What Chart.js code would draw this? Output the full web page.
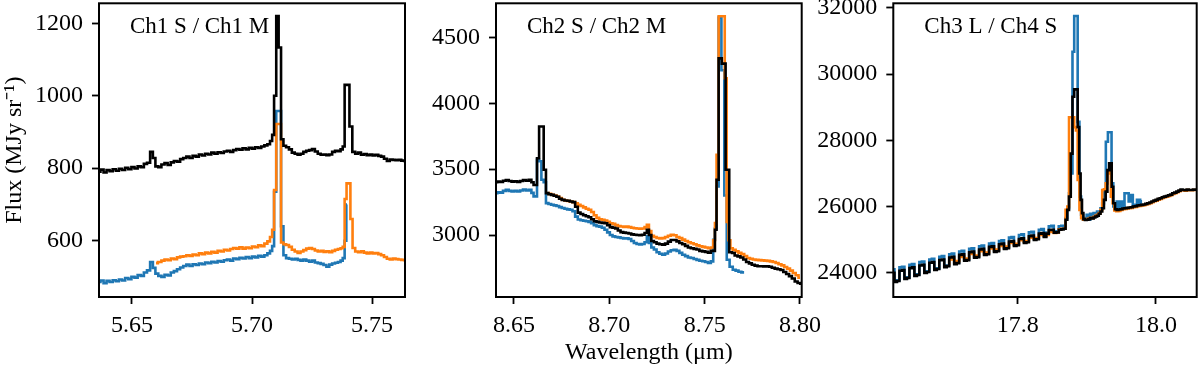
<!DOCTYPE html>
<html>
<head>
<meta charset="utf-8">
<script src="https://cdn.jsdelivr.net/npm/chart.js@4.4.1/dist/chart.umd.min.js"></script>
<style>
  html, body { margin: 0; padding: 0; background: #fff; }
  #wrap { position: relative; width: 1200px; height: 367px; }
  #wrap canvas { position: absolute; left: 0; top: 0; }
</style>
</head>
<body>
<div id="wrap">
  <canvas id="c1" width="1200" height="367"></canvas>
  <canvas id="c2" width="1200" height="367"></canvas>
  <canvas id="c3" width="1200" height="367"></canvas>
</div>
<script>
// ---- data: [wavelength (um), flux (MJy/sr)] ----

// Ch1 S / Ch1 M
const ch1Black = [[5.6362,790],[5.6375,796],[5.6388,788],[5.6400,795],[5.6413,792],[5.6426,797],[5.6439,793],[5.6452,798],[5.6465,795],[5.6478,801],[5.6491,797],[5.6504,803],[5.6517,799],[5.6530,805],[5.6543,803],[5.6556,812],[5.6569,815],[5.6582,845],[5.6592,828],[5.6603,805],[5.6616,803],[5.6629,810],[5.6642,814],[5.6655,809],[5.6668,816],[5.6681,820],[5.6694,818],[5.6707,825],[5.6720,828],[5.6733,832],[5.6746,828],[5.6759,834],[5.6772,832],[5.6785,838],[5.6798,835],[5.6811,840],[5.6824,838],[5.6837,843],[5.6850,840],[5.6863,844],[5.6876,842],[5.6889,846],[5.6902,848],[5.6915,845],[5.6928,850],[5.6941,853],[5.6954,851],[5.6967,855],[5.6980,852],[5.6993,856],[5.7006,854],[5.7019,858],[5.7032,856],[5.7045,860],[5.7058,863],[5.7070,866],[5.7080,875],[5.7088,892],[5.7096,1000],[5.7106,1220],[5.7116,1133],[5.7126,880],[5.7136,862],[5.7148,858],[5.7160,852],[5.7172,843],[5.7184,840],[5.7196,837],[5.7208,840],[5.7220,845],[5.7232,848],[5.7244,850],[5.7256,853],[5.7268,846],[5.7280,840],[5.7292,837],[5.7304,838],[5.7316,836],[5.7328,838],[5.7340,845],[5.7352,848],[5.7364,847],[5.7374,852],[5.7382,860],[5.7390,1030],[5.7400,1030],[5.7412,915],[5.7424,845],[5.7436,840],[5.7448,843],[5.7460,837],[5.7472,839],[5.7484,836],[5.7496,838],[5.7508,835],[5.7520,837],[5.7532,834],[5.7544,832],[5.7556,826],[5.7568,820],[5.7580,824],[5.7592,823],[5.7604,822],[5.7616,823],[5.7628,821],[5.7640,820]];
const ch1S = [[5.6362,486],[5.6375,490],[5.6388,483],[5.6400,489],[5.6413,486],[5.6426,491],[5.6439,488],[5.6452,493],[5.6465,490],[5.6478,497],[5.6491,494],[5.6504,500],[5.6517,498],[5.6530,505],[5.6543,503],[5.6556,512],[5.6569,518],[5.6582,541],[5.6592,525],[5.6603,509],[5.6616,503],[5.6629,500],[5.6642,506],[5.6655,504],[5.6668,512],[5.6681,516],[5.6694,521],[5.6707,526],[5.6720,530],[5.6733,534],[5.6746,530],[5.6759,535],[5.6772,533],[5.6785,537],[5.6798,535],[5.6811,540],[5.6824,538],[5.6837,542],[5.6850,540],[5.6863,544],[5.6876,542],[5.6889,546],[5.6902,548],[5.6915,545],[5.6928,551],[5.6941,549],[5.6954,553],[5.6967,551],[5.6980,555],[5.6993,552],[5.7006,556],[5.7019,554],[5.7032,558],[5.7045,556],[5.7058,560],[5.7070,565],[5.7080,572],[5.7088,585],[5.7096,735],[5.7106,958],[5.7116,958],[5.7126,640],[5.7136,560],[5.7148,552],[5.7160,550],[5.7172,548],[5.7184,550],[5.7196,547],[5.7208,545],[5.7220,548],[5.7232,545],[5.7244,542],[5.7256,545],[5.7268,540],[5.7280,538],[5.7292,536],[5.7304,533],[5.7316,528],[5.7328,534],[5.7340,537],[5.7352,539],[5.7364,541],[5.7374,545],[5.7382,552],[5.7390,600],[5.7396,700]];
const ch1M = [[5.6600,538],[5.6616,541],[5.6629,545],[5.6642,548],[5.6655,546],[5.6668,551],[5.6681,549],[5.6694,554],[5.6707,556],[5.6720,557],[5.6733,560],[5.6746,558],[5.6759,562],[5.6772,560],[5.6785,565],[5.6798,563],[5.6811,567],[5.6824,565],[5.6837,569],[5.6850,567],[5.6863,572],[5.6876,570],[5.6889,575],[5.6902,573],[5.6915,577],[5.6928,580],[5.6941,578],[5.6954,582],[5.6967,578],[5.6980,581],[5.6993,579],[5.7006,584],[5.7019,582],[5.7032,587],[5.7045,585],[5.7058,592],[5.7070,598],[5.7080,610],[5.7088,630],[5.7096,740],[5.7106,922],[5.7116,922],[5.7126,595],[5.7136,590],[5.7148,588],[5.7160,583],[5.7172,575],[5.7184,570],[5.7196,566],[5.7208,570],[5.7220,574],[5.7232,578],[5.7244,580],[5.7256,577],[5.7268,573],[5.7280,570],[5.7292,572],[5.7304,569],[5.7316,571],[5.7328,568],[5.7340,572],[5.7352,575],[5.7364,577],[5.7374,579],[5.7382,583],[5.7390,715],[5.7398,758],[5.7406,758],[5.7414,660],[5.7424,580],[5.7436,570],[5.7448,568],[5.7460,571],[5.7472,567],[5.7484,565],[5.7496,567],[5.7508,565],[5.7520,566],[5.7532,563],[5.7544,560],[5.7556,555],[5.7568,550],[5.7580,548],[5.7592,551],[5.7604,549],[5.7616,548],[5.7628,547],[5.7640,546]];

// Ch2 S / Ch2 M
const ch2Black = [[8.6406,3400],[8.6420,3405],[8.6435,3402],[8.6450,3412],[8.6465,3418],[8.6480,3410],[8.6495,3405],[8.6510,3408],[8.6525,3402],[8.6540,3410],[8.6555,3418],[8.6570,3412],[8.6585,3420],[8.6598,3400],[8.6608,3380],[8.6616,3380],[8.6626,3583],[8.6638,3823],[8.6650,3823],[8.6662,3495],[8.6674,3318],[8.6688,3310],[8.6702,3305],[8.6716,3298],[8.6730,3290],[8.6744,3275],[8.6758,3267],[8.6772,3262],[8.6786,3260],[8.6800,3255],[8.6814,3250],[8.6828,3215],[8.6842,3170],[8.6856,3160],[8.6870,3150],[8.6884,3142],[8.6898,3135],[8.6912,3120],[8.6926,3105],[8.6940,3100],[8.6954,3095],[8.6968,3092],[8.6982,3090],[8.6996,3075],[8.7010,3060],[8.7024,3055],[8.7038,3050],[8.7052,3035],[8.7066,3022],[8.7080,3018],[8.7094,3015],[8.7108,3012],[8.7122,3005],[8.7136,3002],[8.7150,3000],[8.7164,2998],[8.7178,3002],[8.7192,3015],[8.7202,3040],[8.7214,3000],[8.7227,2955],[8.7241,2945],[8.7255,2935],[8.7270,2930],[8.7285,2927],[8.7300,2935],[8.7315,2950],[8.7330,2962],[8.7345,2962],[8.7360,2952],[8.7375,2940],[8.7390,2930],[8.7405,2918],[8.7420,2905],[8.7435,2900],[8.7450,2895],[8.7465,2890],[8.7480,2880],[8.7495,2876],[8.7510,2872],[8.7525,2866],[8.7540,2880],[8.7550,2880],[8.7558,3040],[8.7567,3419],[8.7580,4340],[8.7600,4300],[8.7620,3495],[8.7638,2870],[8.7650,2864],[8.7665,2845],[8.7680,2838],[8.7695,2830],[8.7710,2815],[8.7725,2795],[8.7740,2785],[8.7755,2775],[8.7770,2768],[8.7785,2763],[8.7800,2763],[8.7815,2762],[8.7830,2763],[8.7845,2760],[8.7860,2752],[8.7875,2745],[8.7890,2740],[8.7905,2735],[8.7920,2720],[8.7935,2705],[8.7950,2688],[8.7965,2670],[8.7980,2648],[8.7995,2636],[8.8008,2630]];
const ch2S = [[8.6406,3318],[8.6420,3325],[8.6435,3322],[8.6450,3335],[8.6465,3343],[8.6480,3335],[8.6495,3330],[8.6510,3335],[8.6525,3330],[8.6540,3338],[8.6555,3345],[8.6570,3338],[8.6585,3343],[8.6598,3320],[8.6608,3293],[8.6616,3293],[8.6626,3570],[8.6638,3560],[8.6650,3419],[8.6662,3400],[8.6674,3242],[8.6688,3236],[8.6702,3230],[8.6716,3225],[8.6730,3220],[8.6744,3212],[8.6758,3205],[8.6772,3200],[8.6786,3195],[8.6800,3192],[8.6814,3180],[8.6828,3140],[8.6842,3118],[8.6856,3112],[8.6870,3108],[8.6884,3105],[8.6898,3100],[8.6912,3090],[8.6926,3075],[8.6940,3068],[8.6954,3064],[8.6968,3055],[8.6982,3040],[8.6996,3020],[8.7010,3000],[8.7024,2990],[8.7038,2985],[8.7052,2982],[8.7066,2978],[8.7080,2975],[8.7094,2975],[8.7108,2970],[8.7122,2955],[8.7136,2940],[8.7150,2932],[8.7164,2928],[8.7178,2932],[8.7192,2945],[8.7202,2990],[8.7214,2940],[8.7227,2905],[8.7241,2890],[8.7255,2870],[8.7270,2858],[8.7285,2851],[8.7300,2860],[8.7315,2875],[8.7330,2885],[8.7345,2889],[8.7360,2880],[8.7375,2865],[8.7390,2850],[8.7405,2840],[8.7420,2830],[8.7435,2826],[8.7450,2818],[8.7465,2812],[8.7480,2805],[8.7495,2801],[8.7510,2795],[8.7525,2788],[8.7540,2800],[8.7550,2964],[8.7558,3050],[8.7567,3368],[8.7580,4650],[8.7596,4250],[8.7610,3300],[8.7622,2813],[8.7640,2760],[8.7655,2737],[8.7670,2730],[8.7685,2722],[8.7700,2717],[8.7707,2717]];
const ch2M = [[8.6674,3318],[8.6688,3312],[8.6702,3306],[8.6716,3300],[8.6730,3292],[8.6744,3280],[8.6758,3268],[8.6772,3262],[8.6786,3258],[8.6800,3255],[8.6814,3250],[8.6828,3240],[8.6842,3230],[8.6856,3220],[8.6870,3210],[8.6884,3200],[8.6898,3192],[8.6912,3175],[8.6926,3150],[8.6940,3130],[8.6954,3120],[8.6968,3116],[8.6982,3110],[8.6996,3100],[8.7010,3090],[8.7024,3085],[8.7038,3075],[8.7052,3068],[8.7066,3065],[8.7080,3062],[8.7094,3065],[8.7108,3060],[8.7122,3055],[8.7136,3052],[8.7150,3050],[8.7164,3048],[8.7178,3050],[8.7192,3060],[8.7202,3078],[8.7214,3030],[8.7227,2995],[8.7241,2985],[8.7255,2978],[8.7270,2975],[8.7285,2977],[8.7300,2985],[8.7315,2995],[8.7330,3002],[8.7345,2998],[8.7360,2985],[8.7375,2977],[8.7390,2965],[8.7405,2955],[8.7420,2945],[8.7435,2938],[8.7450,2930],[8.7465,2922],[8.7480,2915],[8.7495,2910],[8.7510,2905],[8.7525,2900],[8.7540,2905],[8.7550,2960],[8.7558,3091],[8.7567,3608],[8.7580,4660],[8.7600,4660],[8.7611,4190],[8.7620,3100],[8.7630,2960],[8.7640,2900],[8.7655,2889],[8.7670,2876],[8.7685,2865],[8.7700,2855],[8.7715,2840],[8.7730,2826],[8.7745,2820],[8.7760,2815],[8.7775,2812],[8.7790,2810],[8.7805,2808],[8.7820,2806],[8.7835,2804],[8.7850,2800],[8.7865,2795],[8.7880,2788],[8.7895,2778],[8.7910,2770],[8.7925,2758],[8.7940,2745],[8.7955,2730],[8.7970,2712],[8.7985,2695],[8.8000,2676]];

// Ch3 L / Ch4 S
const ch3Black = [[17.6200,24000],[17.6236,23720],[17.6272,23750],[17.6308,24060],[17.6344,24080],[17.6380,23810],[17.6416,23840],[17.6452,24140],[17.6488,24160],[17.6524,23900],[17.6560,23930],[17.6596,24220],[17.6632,24240],[17.6668,23990],[17.6704,24020],[17.6740,24300],[17.6776,24320],[17.6812,24080],[17.6848,24110],[17.6884,24380],[17.6920,24400],[17.6956,24170],[17.6992,24200],[17.7028,24460],[17.7064,24480],[17.7100,24260],[17.7136,24290],[17.7172,24540],[17.7208,24560],[17.7244,24360],[17.7280,24380],[17.7316,24620],[17.7352,24640],[17.7388,24450],[17.7424,24470],[17.7460,24700],[17.7496,24720],[17.7532,24540],[17.7568,24560],[17.7604,24780],[17.7640,24800],[17.7676,24630],[17.7712,24650],[17.7748,24860],[17.7784,24880],[17.7820,24720],[17.7856,24740],[17.7892,24940],[17.7928,24960],[17.7964,24810],[17.8000,24830],[17.8036,25020],[17.8072,25040],[17.8108,24900],[17.8144,24920],[17.8180,25100],[17.8216,25120],[17.8252,24990],[17.8288,25010],[17.8324,25180],[17.8360,25200],[17.8396,25080],[17.8432,25180],[17.8468,25290],[17.8504,25300],[17.8540,25210],[17.8576,25220],[17.8612,25300],[17.8648,25310],[17.8680,25330],[17.8705,25600],[17.8730,25900],[17.8755,26300],[17.8780,27600],[17.8805,29320],[17.8830,29540],[17.8855,29540],[17.8880,28400],[17.8900,27000],[17.8920,26200],[17.8940,25800],[17.8960,25620],[17.8985,25595],[17.9010,25600],[17.9035,25620],[17.9060,25650],[17.9085,25640],[17.9110,25670],[17.9135,25700],[17.9160,25720],[17.9185,25780],[17.9210,25850],[17.9235,25950],[17.9260,26200],[17.9285,26450],[17.9310,27100],[17.9335,27310],[17.9350,27310],[17.9370,26600],[17.9395,26100],[17.9420,25920],[17.9445,25900],[17.9470,25910],[17.9500,25920],[17.9530,25940],[17.9560,25950],[17.9590,25960],[17.9620,25970],[17.9650,25980],[17.9680,26000],[17.9710,26010],[17.9740,26030],[17.9770,26040],[17.9800,26050],[17.9830,26060],[17.9860,26080],[17.9890,26100],[17.9920,26120],[17.9950,26150],[17.9980,26180],[18.0010,26200],[18.0040,26230],[18.0070,26250],[18.0100,26280],[18.0130,26300],[18.0160,26320],[18.0190,26340],[18.0220,26360],[18.0250,26400],[18.0280,26420],[18.0310,26450],[18.0340,26480],[18.0370,26510],[18.0400,26500],[18.0430,26490],[18.0460,26510],[18.0490,26500],[18.0520,26500],[18.0550,26510],[18.0580,26510]];
const ch3L = [[17.6200,24100],[17.6236,23740],[17.6272,23770],[17.6308,24160],[17.6344,24180],[17.6380,23830],[17.6416,23860],[17.6452,24240],[17.6488,24260],[17.6524,23920],[17.6560,23950],[17.6596,24320],[17.6632,24340],[17.6668,24010],[17.6704,24040],[17.6740,24400],[17.6776,24420],[17.6812,24100],[17.6848,24130],[17.6884,24480],[17.6920,24500],[17.6956,24190],[17.6992,24220],[17.7028,24560],[17.7064,24580],[17.7100,24280],[17.7136,24310],[17.7172,24640],[17.7208,24660],[17.7244,24380],[17.7280,24400],[17.7316,24720],[17.7352,24740],[17.7388,24470],[17.7424,24490],[17.7460,24800],[17.7496,24820],[17.7532,24560],[17.7568,24580],[17.7604,24880],[17.7640,24900],[17.7676,24650],[17.7712,24670],[17.7748,24960],[17.7784,24980],[17.7820,24740],[17.7856,24760],[17.7892,25060],[17.7928,25080],[17.7964,24840],[17.8000,24860],[17.8036,25140],[17.8072,25160],[17.8108,24930],[17.8144,24950],[17.8180,25220],[17.8216,25240],[17.8252,25020],[17.8288,25040],[17.8324,25300],[17.8360,25320],[17.8396,25110],[17.8432,25210],[17.8468,25400],[17.8504,25420],[17.8540,25240],[17.8576,25250],[17.8612,25400],[17.8648,25420],[17.8680,25400],[17.8705,25650],[17.8730,25950],[17.8755,26400],[17.8780,27000],[17.8805,30680],[17.8830,31760],[17.8855,31760],[17.8880,28560],[17.8905,26300],[17.8930,25750],[17.8960,25600],[17.8985,25650],[17.9010,25750],[17.9035,25600],[17.9060,25780],[17.9085,25650],[17.9110,25800],[17.9135,25700],[17.9160,25850],[17.9185,25800],[17.9210,25950],[17.9235,26100],[17.9260,26450],[17.9290,27960],[17.9320,28245],[17.9345,28245],[17.9370,26700],[17.9395,26000],[17.9420,25900],[17.9445,26150],[17.9470,25950],[17.9500,26150],[17.9530,25980],[17.9560,26400],[17.9590,26400],[17.9620,26150],[17.9650,26350],[17.9680,26050],[17.9710,26000],[17.9740,26200],[17.9770,26100],[17.9790,26200]];
const ch4S = [[17.6992,24260],[17.7028,24400],[17.7064,24420],[17.7100,24320],[17.7136,24350],[17.7172,24480],[17.7208,24500],[17.7244,24410],[17.7280,24430],[17.7316,24570],[17.7352,24590],[17.7388,24500],[17.7424,24520],[17.7460,24650],[17.7496,24670],[17.7532,24590],[17.7568,24610],[17.7604,24730],[17.7640,24750],[17.7676,24680],[17.7712,24700],[17.7748,24810],[17.7784,24830],[17.7820,24760],[17.7856,24790],[17.7892,24900],[17.7928,24920],[17.7964,24850],[17.8000,24870],[17.8036,24980],[17.8072,25000],[17.8108,24940],[17.8144,24960],[17.8180,25060],[17.8216,25080],[17.8252,25030],[17.8288,25050],[17.8324,25140],[17.8360,25160],[17.8396,25110],[17.8432,25140],[17.8468,25230],[17.8504,25250],[17.8540,25200],[17.8576,25220],[17.8612,25310],[17.8648,25330],[17.8680,25330],[17.8705,25900],[17.8730,26000],[17.8755,28700],[17.8780,28700],[17.8805,28700],[17.8830,28400],[17.8855,28300],[17.8880,26800],[17.8905,25900],[17.8930,25650],[17.8960,25600],[17.8985,25620],[17.9010,25620],[17.9035,25640],[17.9060,25660],[17.9085,25650],[17.9110,25690],[17.9135,25720],[17.9160,25750],[17.9185,25800],[17.9210,25900],[17.9235,26500],[17.9260,26520],[17.9285,26700],[17.9310,27000],[17.9335,27100],[17.9360,26300],[17.9385,26100],[17.9410,25880],[17.9440,25860],[17.9470,25870],[17.9500,25900],[17.9530,25920],[17.9560,25930],[17.9590,25940],[17.9620,25950],[17.9650,25960],[17.9680,25980],[17.9710,25990],[17.9740,26010],[17.9770,26020],[17.9800,26030],[17.9830,26040],[17.9860,26060],[17.9890,26080],[17.9920,26100],[17.9950,26130],[17.9980,26160],[18.0010,26180],[18.0040,26210],[18.0070,26230],[18.0100,26260],[18.0130,26280],[18.0160,26300],[18.0190,26320],[18.0220,26340],[18.0250,26380],[18.0280,26400],[18.0310,26430],[18.0340,26460],[18.0370,26490],[18.0400,26490],[18.0430,26480],[18.0460,26500],[18.0490,26490],[18.0520,26490],[18.0550,26500],[18.0580,26500]];

// tick values and labels
const p1XTicks = [5.65, 5.70, 5.75];
const p1XLabels = ["5.65", "5.70", "5.75"];
const p1YTicks = [600, 800, 1000, 1200];
const p2XTicks = [8.65, 8.70, 8.75, 8.80];
const p2XLabels = ["8.65", "8.70", "8.75", "8.80"];
const p2YTicks = [3000, 3500, 4000, 4500];
const p3XTicks = [17.8, 18.0];
const p3XLabels = ["17.8", "18.0"];
const p3YTicks = [24000, 26000, 28000, 30000, 32000];

const FONT = '"Liberation Serif", "Times New Roman", serif';
const BLUE = "#1f77b4", ORANGE = "#ff7f0e", BLACK = "#000000";

const toXY = arr => arr.map(p => ({ x: p[0], y: p[1] }));

// frame around the plot area + panel label
const framePlugin = {
    id: "frame",
    afterDraw(chart, args, opts) {
        const { ctx, chartArea: a } = chart;
        ctx.save();
        ctx.strokeStyle = "#000";
        ctx.lineWidth = 2;
        ctx.strokeRect(a.left, a.top, a.right - a.left, a.bottom - a.top);
        ctx.fillStyle = "#000";
        ctx.font = "23px " + FONT;
        ctx.textBaseline = "alphabetic";
        ctx.fillText(opts.label, a.left + 31, 33);
        ctx.restore();
    }
};

function makePanel(id, cfg) {
    const tickStyle = { color: "#000", font: { family: FONT, size: 24 } };
    const gridStyle = { display: true, drawOnChartArea: false, drawTicks: true, tickLength: 7, tickWidth: 1.8, tickColor: "#000" };

    new Chart(document.getElementById(id), {
        type: "line",
        data: {
            datasets: [
                { data: toXY(cfg.black), borderColor: BLACK },
                { data: toXY(cfg.second), borderColor: ORANGE },
                { data: toXY(cfg.first), borderColor: BLUE }
            ]
        },
        options: {
            responsive: false,
            animation: false,
            events: [],
            parsing: false,
            layout: { padding: { left: cfg.left, right: cfg.right, top: 3.3, bottom: 0 } },
            elements: {
                point: { radius: 0 },
                line: { borderWidth: 2.6, stepped: "middle", fill: false, tension: 0 }
            },
            plugins: {
                legend: { display: false },
                tooltip: { enabled: false },
                frame: { label: cfg.label }
            },
            scales: {
                x: {
                    type: "linear",
                    min: cfg.xMin,
                    max: cfg.xMax,
                    grid: gridStyle,
                    border: { display: false },
                    ticks: {
                        ...tickStyle,
                        padding: 7,
                        maxRotation: 0,
                        callback: v => {
                            const i = cfg.xTicks.findIndex(t => Math.abs(t - v) < 1e-6);
                            return i >= 0 ? cfg.xLabels[i] : "";
                        }
                    },
                    afterBuildTicks: s => { s.ticks = cfg.xTicks.map(v => ({ value: v })); },
                    afterFit: s => { s.height = 70; s.paddingLeft = 0; s.paddingRight = 0; },
                    title: {
                        display: !!cfg.xTitle,
                        text: cfg.xTitle || "",
                        color: "#000",
                        font: { family: FONT, size: 24 },
                        padding: { top: 0, bottom: 0 }
                    }
                },
                y: {
                    type: "linear",
                    min: cfg.yMin,
                    max: cfg.yMax,
                    grid: gridStyle,
                    border: { display: false },
                    ticks: { ...tickStyle, padding: 9, callback: v => String(v) },
                    afterBuildTicks: s => { s.ticks = cfg.yTicks.map(v => ({ value: v })); },
                    afterFit: s => { s.width = cfg.yWidth; s.paddingTop = 0; s.paddingBottom = 0; },
                    title: {
                        display: !!cfg.yTitle,
                        text: cfg.yTitle || "",
                        color: "#000",
                        font: { family: FONT, size: 24 },
                        padding: { top: 0, bottom: 0 }
                    }
                }
            }
        },
        plugins: [framePlugin]
    });
}

makePanel("c1", {
    label: "Ch1 S / Ch1 M",
    black: ch1Black, first: ch1S, second: ch1M,
    xMin: 5.63625, xMax: 5.76375, yMin: 444.6, yMax: 1255,
    xTicks: p1XTicks, xLabels: p1XLabels, yTicks: p1YTicks,
    left: 0, right: 795, yWidth: 99,
    yTitle: "Flux (MJy sr\u207B\u00B9)"
});

makePanel("c2", {
    label: "Ch2 S / Ch2 M",
    black: ch2Black, first: ch2S, second: ch2M,
    xMin: 8.6406, xMax: 8.8009, yMin: 2530, yMax: 4758,
    xTicks: p2XTicks, xLabels: p2XLabels, yTicks: p2YTicks,
    left: 406, right: 398.3, yWidth: 90,
    xTitle: "Wavelength (\u03BCm)"
});

makePanel("c3", {
    label: "Ch3 L / Ch4 S",
    black: ch3Black, first: ch3L, second: ch4S,
    xMin: 17.6201, xMax: 18.0589, yMin: 23266, yMax: 32142,
    xTicks: p3XTicks, xLabels: p3XLabels, yTicks: p3YTicks,
    left: 803.3, right: 3.3, yWidth: 90
});
</script>
</body>
</html>
